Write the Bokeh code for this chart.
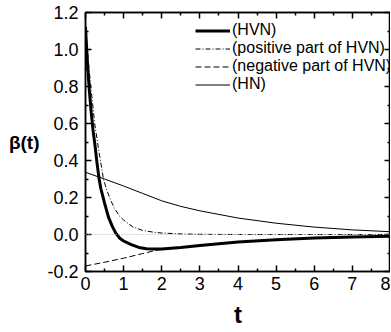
from bokeh.plotting import figure
from bokeh.models import (Range1d, LinearAxis, Legend, LegendItem, Span, FixedTicker,
                          NumeralTickFormatter, CustomJSTickFormatter)
from bokeh.embed import file_html
from bokeh.resources import INLINE

# ---- data ----
t_hvn = [0, 0.05, 0.1, 0.15, 0.2, 0.25, 0.3, 0.35, 0.4, 0.5, 0.6, 0.7, 0.8, 0.9, 1.0,
         1.2, 1.4, 1.6, 1.8, 2.0, 2.5, 3, 3.5, 4, 5, 6, 7, 8]
hvn = [1.12, 0.93, 0.78, 0.66, 0.56, 0.48, 0.39, 0.31, 0.25, 0.17, 0.095, 0.045, 0.005,
       -0.02, -0.035, -0.055, -0.07, -0.077, -0.079, -0.078, -0.07, -0.06, -0.05, -0.041,
       -0.028, -0.019, -0.013, -0.01]

t_pos = [0, 0.05, 0.1, 0.14, 0.2, 0.24, 0.3, 0.35, 0.4, 0.47, 0.55, 0.63, 0.75, 0.89, 1.0,
         1.25, 1.5, 1.8, 2.0, 2.5, 3, 4, 5, 6, 7, 8]
pos = [1.14, 1.0, 0.88, 0.8, 0.68, 0.6, 0.52, 0.45, 0.39, 0.3, 0.245, 0.2, 0.145, 0.1,
       0.078, 0.04, 0.022, 0.012, 0.008, 0.003, 0.001, 0.0, 0.0, 0.0, 0.0, 0.0]

t_neg = [0, 0.5, 1.0, 1.5, 1.8, 2.0, 2.5, 3, 3.5, 4, 5, 6, 7, 8]
neg = [-0.17, -0.15, -0.128, -0.103, -0.088, -0.08, -0.07, -0.06, -0.05, -0.041, -0.028,
       -0.019, -0.013, -0.01]

t_hn = [0, 0.5, 1.0, 1.5, 2.0, 2.5, 3, 4, 5, 6, 7, 8]
hn = [0.336, 0.30, 0.262, 0.222, 0.182, 0.152, 0.128, 0.089, 0.061, 0.040, 0.025, 0.015]

labels = ["(HVN)", "(positive part of HVN)", "(negative part of HVN)", "(HN)"]
x_title = "t"
y_title = "β(t)"
x_ticks = [0, 1, 2, 3, 4, 5, 6, 7, 8]
x_minor = [0.5, 1.5, 2.5, 3.5, 4.5, 5.5, 6.5, 7.5]
y_ticks = [-0.2, 0.0, 0.2, 0.4, 0.6, 0.8, 1.0, 1.2]
y_minor = [-0.1, 0.1, 0.3, 0.5, 0.7, 0.9, 1.1]

FONT = "Liberation Sans"

p = figure(width=391, height=332, output_backend="svg", toolbar_location=None,
           x_range=Range1d(0, 8), y_range=Range1d(-0.2, 1.2),
           x_axis_location=None, y_axis_location=None,
           frame_width=305, frame_height=259,
           min_border_left=85, min_border_right=0, min_border_top=12, min_border_bottom=61,
           background_fill_color="white", border_fill_color="white")
p.grid.visible = False
p.outline_line_color = "black"
p.outline_line_width = 1.5

blank = CustomJSTickFormatter(code="return ''")

bottom = LinearAxis(ticker=FixedTicker(ticks=x_ticks, minor_ticks=x_minor), axis_label=x_title)
left = LinearAxis(ticker=FixedTicker(ticks=y_ticks, minor_ticks=y_minor),
                  formatter=NumeralTickFormatter(format="0.0"), axis_label=y_title)
top = LinearAxis(ticker=FixedTicker(ticks=x_ticks, minor_ticks=x_minor), formatter=blank)
right = LinearAxis(ticker=FixedTicker(ticks=y_ticks, minor_ticks=y_minor), formatter=blank)
p.add_layout(bottom, "below")
p.add_layout(left, "left")
p.add_layout(top, "above")
p.add_layout(right, "right")

for ax in [bottom, left, top, right]:
    ax.major_tick_in = 6
    ax.major_tick_out = 0
    ax.minor_tick_in = 3
    ax.minor_tick_out = 0
    ax.axis_line_width = 1.5
    ax.major_tick_line_width = 1.5
    ax.minor_tick_line_width = 1.5
    ax.axis_line_color = "black"
    ax.major_label_text_font = FONT
    ax.major_label_text_font_size = "18px"
    ax.major_label_text_color = "black"
    ax.axis_label_text_font = FONT
    ax.axis_label_text_color = "black"
    ax.axis_label_text_font_style = "bold"

for ax in [top, right]:
    ax.major_label_text_font_size = "1px"
    ax.major_label_standoff = 0

bottom.major_label_standoff = 5
bottom.axis_label_text_font_size = "24px"
bottom.axis_label_standoff = 8
left.major_label_standoff = 7
left.axis_label_text_font_size = "19px"
left.axis_label_orientation = "horizontal"
left.axis_label_standoff = 5

# zero reference line
p.add_layout(Span(location=0, dimension="width", line_color="#aaaaaa",
                  line_dash="1 2", line_width=1))

r_hvn = p.line(t_hvn, hvn, line_color="black", line_width=3)
r_pos = p.line(t_pos, pos, line_color="black", line_width=1, line_dash="5 2 1 2")
r_neg = p.line(t_neg, neg, line_color="black", line_width=1, line_dash="6 3")
r_hn = p.line(t_hn, hn, line_color="black", line_width=1)

legend = Legend(items=[LegendItem(label=labels[0], renderers=[r_hvn]),
                       LegendItem(label=labels[1], renderers=[r_pos]),
                       LegendItem(label=labels[2], renderers=[r_neg]),
                       LegendItem(label=labels[3], renderers=[r_hn])],
                location=(110, 178), padding=0, margin=0, spacing=0,
                glyph_width=35, glyph_height=17, label_height=17, label_standoff=2,
                label_text_font=FONT, label_text_font_size="16px",
                label_text_color="black",
                border_line_alpha=0, background_fill_alpha=0)
p.add_layout(legend, "center")

open("out.html", "w").write(file_html(p, INLINE))
